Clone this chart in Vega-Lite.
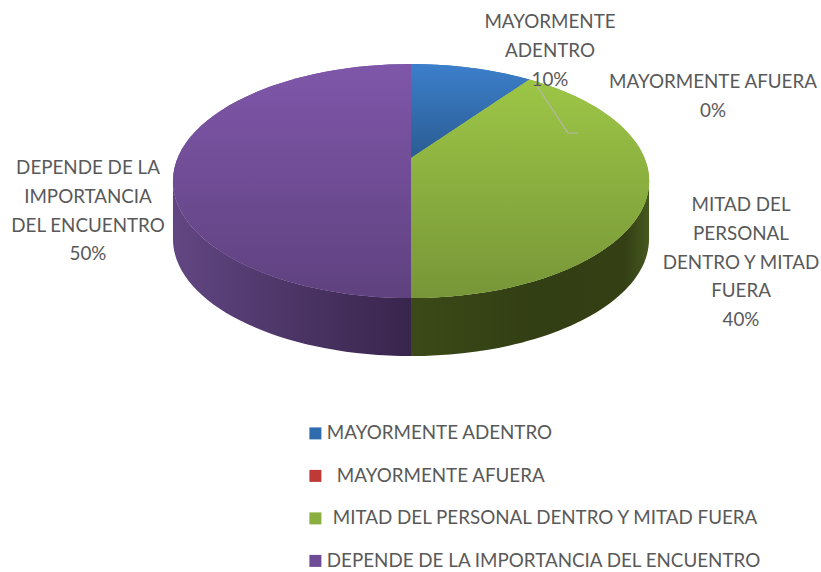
{
"$schema":"https://vega.github.io/schema/vega-lite/v6.json",
"width":821,"height":572,"padding":0,"autosize":{"type":"none"},
"background":"white",
"config":{"view":{"stroke":null},"font":"Lato"},
"data":{"values":[
{"category":"MAYORMENTE ADENTRO","share":10,"label":"MAYORMENTE\nADENTRO"},
{"category":"MAYORMENTE AFUERA","share":0,"label":"MAYORMENTE AFUERA"},
{"category":"MITAD DEL PERSONAL DENTRO Y MITAD FUERA","share":40,"label":"MITAD DEL\nPERSONAL\nDENTRO Y MITAD\nFUERA"},
{"category":"DEPENDE DE LA IMPORTANCIA DEL ENCUENTRO","share":50,"label":"DEPENDE DE LA\nIMPORTANCIA\nDEL ENCUENTRO"}
]},
"transform":[
{"window":[{"op":"sum","field":"share","as":"cum"}],"frame":[null,0]},
{"calculate":"(datum.cum-datum.share)/100*2*PI","as":"a0"},
{"calculate":"datum.cum/100*2*PI","as":"a1"},
{"calculate":"233.4*sin(datum.a0)/(1+0.1965*cos(datum.a0))","as":"x0"},
{"calculate":"-112.5*cos(datum.a0)/(1+0.1965*cos(datum.a0))","as":"y0"},
{"calculate":"233.4*sin(datum.a1)/(1+0.1965*cos(datum.a1))","as":"x1"},
{"calculate":"-112.5*cos(datum.a1)/(1+0.1965*cos(datum.a1))","as":"y1"},
{"calculate":"'M0,0L'+datum.x0+','+datum.y0+'A238,117,0,'+((datum.a1-datum.a0)>PI?1:0)+',1,'+datum.x1+','+datum.y1+'Z'","as":"topPath"},
{"calculate":"max(datum.a0,1.7685)","as":"wa"},
{"calculate":"min(datum.a1,4.5147)","as":"wb"},
{"calculate":"233.4*sin(datum.wa)/(1+0.1965*cos(datum.wa))","as":"wx0"},
{"calculate":"-112.5*cos(datum.wa)/(1+0.1965*cos(datum.wa))","as":"wy0"},
{"calculate":"233.4*sin(datum.wb)/(1+0.1965*cos(datum.wb))","as":"wx1"},
{"calculate":"-112.5*cos(datum.wb)/(1+0.1965*cos(datum.wb))","as":"wy1"},
{"calculate":"'M'+datum.wx0+','+datum.wy0+'A238,117,0,0,1,'+datum.wx1+','+datum.wy1+'L'+datum.wx1+','+(datum.wy1+58)+'A238,117,0,0,0,'+datum.wx0+','+(datum.wy0+58)+'Z'","as":"wallPath"},
{"calculate":"datum.label+'\\n'+datum.share+'%'","as":"labelText"}
],
"layer":[
{"transform":[{"filter":"datum.share==40"}],
 "mark":{"type":"point","filled":true,"size":4,"opacity":1,"xOffset":0.5,"yOffset":-128,
  "fill":{"gradient":"linear","x1":0,"y1":0,"x2":1,"y2":0,"stops":[{"offset":0,"color":"#3b4a18"},{"offset":0.55,"color":"#323e13"},{"offset":0.9,"color":"#344014"},{"offset":1,"color":"#46581f"}]}},
 "encoding":{"shape":{"field":"wallPath","type":"nominal","scale":null,"legend":null}}},
{"transform":[{"filter":"datum.share==50"}],
 "mark":{"type":"point","filled":true,"size":4,"opacity":1,"xOffset":0.5,"yOffset":-128,
  "fill":{"gradient":"linear","x1":0,"y1":0,"x2":1,"y2":0,"stops":[{"offset":0,"color":"#624683"},{"offset":0.35,"color":"#523a6e"},{"offset":1,"color":"#38254c"}]}},
 "encoding":{"shape":{"field":"wallPath","type":"nominal","scale":null,"legend":null}}},
{"mark":{"type":"point","filled":true,"size":4,"opacity":1,"xOffset":0.5,"yOffset":-128},
 "encoding":{
  "shape":{"field":"topPath","type":"nominal","scale":null,"legend":null},
  "color":{"field":"category","type":"nominal","sort":null,
   "scale":{"domain":["MAYORMENTE ADENTRO","MAYORMENTE AFUERA","MITAD DEL PERSONAL DENTRO Y MITAD FUERA","DEPENDE DE LA IMPORTANCIA DEL ENCUENTRO"],
   "range":["#2f6cad","#bf3a36","#8aae3f","#6f4c96"]},
   "legend":{"title":null,"orient":"none","legendX":306,"legendY":424,"symbolType":"square","symbolSize":144,"symbolStrokeWidth":0,"symbolOpacity":1,"labelFont":"Lato","labelFontSize":18.8,"labelColor":"#595959","labelLimit":500,"labelOffset":2,"rowPadding":22.5,"padding":0,
    "encode":{"labels":{"update":{"dx":{"signal":"datum.value=='MAYORMENTE AFUERA'?10:(datum.value=='MITAD DEL PERSONAL DENTRO Y MITAD FUERA'?6:0)"}}}}}}
 }},
{"transform":[{"filter":"datum.share==10"}],
 "mark":{"type":"point","filled":true,"size":4,"opacity":1,"xOffset":0.5,"yOffset":-128,
  "fill":{"gradient":"linear","x1":0,"y1":0,"x2":0,"y2":1,"stops":[{"offset":0,"color":"#3c7fcb"},{"offset":1,"color":"#2a5c92"}]}},
 "encoding":{"shape":{"field":"topPath","type":"nominal","scale":null,"legend":null}}},
{"transform":[{"filter":"datum.share==40"}],
 "mark":{"type":"point","filled":true,"size":4,"opacity":1,"xOffset":0.5,"yOffset":-128,
  "fill":{"gradient":"linear","x1":0,"y1":0,"x2":0,"y2":1,"stops":[{"offset":0,"color":"#9dc646"},{"offset":1,"color":"#779638"}]}},
 "encoding":{"shape":{"field":"topPath","type":"nominal","scale":null,"legend":null}}},
{"transform":[{"filter":"datum.share==50"}],
 "mark":{"type":"point","filled":true,"size":4,"opacity":1,"xOffset":0.5,"yOffset":-128,
  "fill":{"gradient":"linear","x1":0,"y1":0,"x2":0,"y2":1,"stops":[{"offset":0,"color":"#7f57aa"},{"offset":1,"color":"#5f417f"}]}},
 "encoding":{"shape":{"field":"topPath","type":"nominal","scale":null,"legend":null}}},
{"transform":[{"filter":"datum.share==10"}],
 "mark":{"type":"point","filled":false,"size":4,"opacity":1,"stroke":"#b5b8ac","strokeWidth":1.2,"xOffset":0.5,"yOffset":-128,"shape":"M124,-75L157,-25L167,-25"},
 "encoding":{}},
{"mark":{"type":"text","font":"Lato","fontSize":18.8,"color":"#595959","align":"center","baseline":"middle","lineBreak":"\n","lineHeight":28.8},
 "encoding":{
  "text":{"field":"labelText","type":"nominal"},
  "x":{"field":"share","type":"quantitative","axis":null,"scale":{"domain":[0,10,40,50],"range":[713,550,741,88],"nice":false,"zero":false}},
  "y":{"field":"share","type":"quantitative","axis":null,"scale":{"domain":[0,10,40,50],"range":[82,22,205,168],"nice":false,"zero":false}}
 }}
]
}
